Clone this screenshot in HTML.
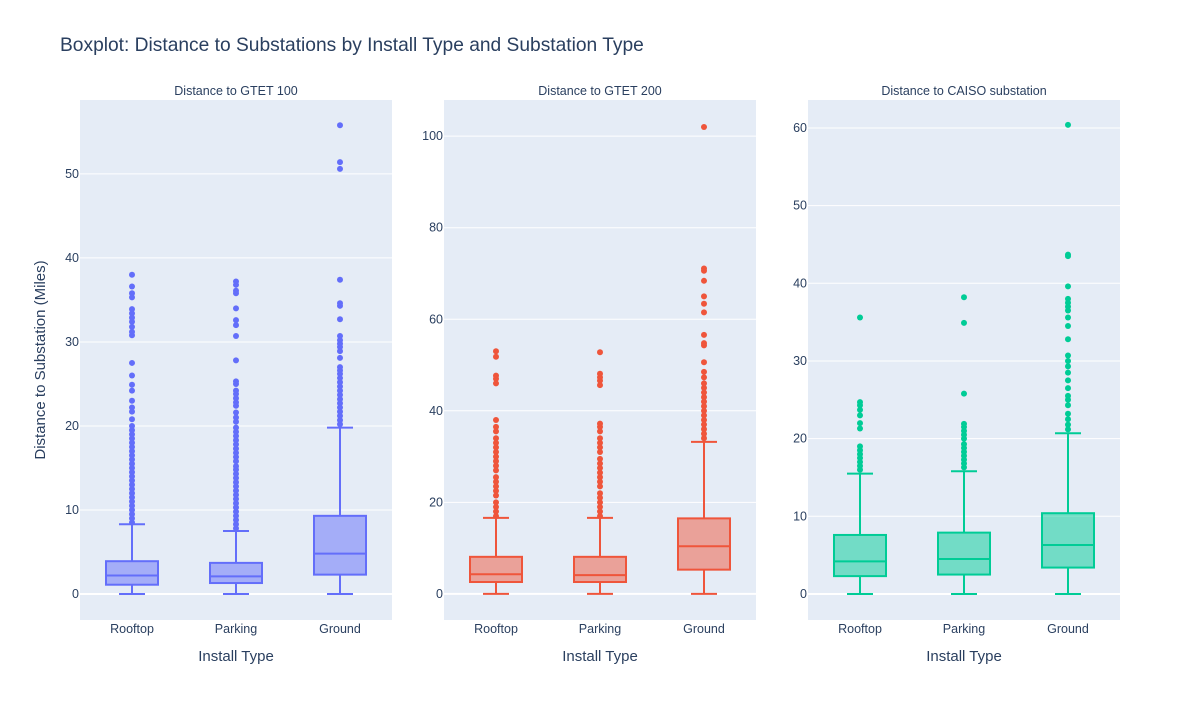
<!DOCTYPE html>
<html><head><meta charset="utf-8"><style>
body{margin:0;background:#fff;font-family:"Liberation Sans",sans-serif}
svg text{font-family:"Liberation Sans",sans-serif;fill:#2a3f5f}
</style></head><body>
<svg id="c" width="1200" height="700"></svg>
<script>
const categories=["Rooftop","Parking","Ground"];
const panelTitles=["Distance to GTET 100","Distance to GTET 200","Distance to CAISO substation"];
const yTicks1=[0,10,20,30,40,50];
const yTicks2=[0,20,40,60,80,100];
const yTicks3=[0,10,20,30,40,50,60];
// [lowerFence,q1,median,q3,upperFence] per category
const stats1=[[0,1.1,2.2,3.9,8.3],[0,1.3,2.1,3.7,7.5],[0,2.3,4.8,9.3,19.8]];
const stats2=[[0,2.6,4.3,8.1,16.6],[0,2.6,4.1,8.1,16.6],[0,5.3,10.4,16.5,33.2]];
const stats3=[[0,2.3,4.2,7.6,15.5],[0,2.5,4.5,7.9,15.8],[0,3.4,6.3,10.4,20.7]];
const outliers1=[
[8.5,9,9.5,10,10.5,11,11.5,12,12.5,13,13.5,14,14.5,15,15.5,16,16.5,17,17.5,18,18.5,19,19.5,20,20.8,21.7,22.2,23,24.2,24.9,26,27.5,30.8,31.2,31.8,32.4,32.9,33.4,33.9,35.3,35.8,36.6,38],
[7.8,8.3,8.8,9.3,9.8,10.3,10.8,11.3,11.8,12.3,12.8,13.3,13.8,14.3,14.8,15.2,15.8,16.3,16.8,17.3,17.8,18.3,18.8,19.3,19.8,20.5,21,21.6,22.4,22.8,23.3,23.8,24.2,25,25.3,27.8,30.7,32,32.6,34,35.8,36.1,36.8,37.2],
[20.2,20.7,21.2,21.7,22.2,22.7,23.2,23.7,24.2,24.7,25.2,25.7,26.2,26.6,27,28.1,28.9,29.4,29.8,30.2,30.7,32.7,34.3,34.6,37.4,50.6,51.4,55.8]];
const outliers2=[
[17,18,19,20,21.5,22.5,23.5,24.5,25.5,27,28,29,30,31,32,33,34,35.5,36.5,38,46,47,47.7,51.8,53],
[17,18,19,20,21,22,23.5,24.5,25.5,26.5,27.5,28.5,29.5,31,32,33,34,35.5,36.5,37.2,45.6,46.6,47.3,48.1,52.8],
[34,35,36,37,38,39,40,41,42,43,44,45,46,47.3,48.5,50.6,54.3,54.8,56.6,61.5,63.4,65,68.4,70.6,71.1,102]];
const outliers3=[
[16,16.5,17,17.5,18,18.5,19,21.3,22,23,23.7,24.3,24.7,35.6],
[16.3,16.8,17.3,17.8,18.3,18.8,19.3,20,20.5,21,21.5,21.9,25.8,34.9,38.2],
[21.2,21.8,22.5,23.2,24.3,25,25.5,26.5,27.5,28.5,29.3,30,30.7,32.8,34.5,35.6,36.5,37,37.5,38,39.6,43.5,43.7,60.4]];
const yRanges=[[-3.1,58.8],[-5.7,107.9],[-3.35,63.6]];
const colors=["#636efa","#EF553B","#00cc96"];
const fills=["rgba(99,110,250,0.5)","rgba(239,85,59,0.5)","rgba(0,204,150,0.5)"];
const panelX=[80,444,808];
const allTicks=[yTicks1,yTicks2,yTicks3],allStats=[stats1,stats2,stats3],allOut=[outliers1,outliers2,outliers3];
const NS="http://www.w3.org/2000/svg",svg=document.getElementById('c');
function mk(t,a,p){const e=document.createElementNS(NS,t);for(const k in a)e.setAttribute(k,a[k]);(p||svg).appendChild(e);return e;}
const PT=100,PB=620,PW=312;
let tt=mk('text',{x:60,y:51,'font-size':19.2});tt.textContent="Boxplot: Distance to Substations by Install Type and Substation Type";


for(let p=0;p<3;p++){
  const x0=panelX[p],r=yRanges[p];
  const y=v=>PB-(v-r[0])/(r[1]-r[0])*(PB-PT);
  const xc=i=>x0+PW/3*(i+0.5);
  const g=mk('g',{});
  
  
  const bg=mk('rect',{x:x0,y:PT,width:PW,height:PB-PT,fill:'#E5ECF6'},g);
  
  
  const st=mk('text',{x:x0+PW/2,y:95,'font-size':12.5,'text-anchor':'middle'},g);st.textContent=panelTitles[p];
  
  
  allTicks[p].forEach(t=>{
    const gl=mk('line',{x1:x0,x2:x0+PW,y1:y(t),y2:y(t),stroke:'#fff','stroke-width':t===0?2:1},g);
    
    
    const tl=mk('text',{x:x0-1,y:y(t)+4,'font-size':12.5,'text-anchor':'end'},g);tl.textContent=t;
    
    
  });
  categories.forEach((c,i)=>{
    const tl=mk('text',{x:xc(i),y:633,'font-size':12.5,'text-anchor':'middle'},g);tl.textContent=c;
    
    
    const s=allStats[p][i],cx=xc(i),hw=26,ww=13,col=colors[p];
    const bx=mk('g',{},g);
    
    
    mk('line',{x1:cx,x2:cx,y1:y(s[0]),y2:y(s[1]),stroke:col,'stroke-width':2},bx);
    mk('line',{x1:cx,x2:cx,y1:y(s[3]),y2:y(s[4]),stroke:col,'stroke-width':2},bx);
    mk('line',{x1:cx-ww,x2:cx+ww,y1:y(s[0]),y2:y(s[0]),stroke:col,'stroke-width':2},bx);
    mk('line',{x1:cx-ww,x2:cx+ww,y1:y(s[4]),y2:y(s[4]),stroke:col,'stroke-width':2},bx);
    mk('rect',{x:cx-hw,y:y(s[3]),width:hw*2,height:y(s[1])-y(s[3]),fill:fills[p],stroke:col,'stroke-width':2},bx);
    mk('line',{x1:cx-hw,x2:cx+hw,y1:y(s[2]),y2:y(s[2]),stroke:col,'stroke-width':2},bx);
    allOut[p][i].forEach(v=>{
      const d=mk('circle',{cx:cx,cy:y(v),r:3,fill:col},bx);
      
      
    });
  });
  const xt=mk('text',{x:x0+PW/2,y:661,'font-size':15,'text-anchor':'middle'},g);xt.textContent="Install Type";
  
  
}
const yt=mk('text',{x:45,y:360,'font-size':15,'text-anchor':'middle',transform:'rotate(-90 45 360)'});yt.textContent="Distance to Substation (Miles)";


</script>
</body></html>
